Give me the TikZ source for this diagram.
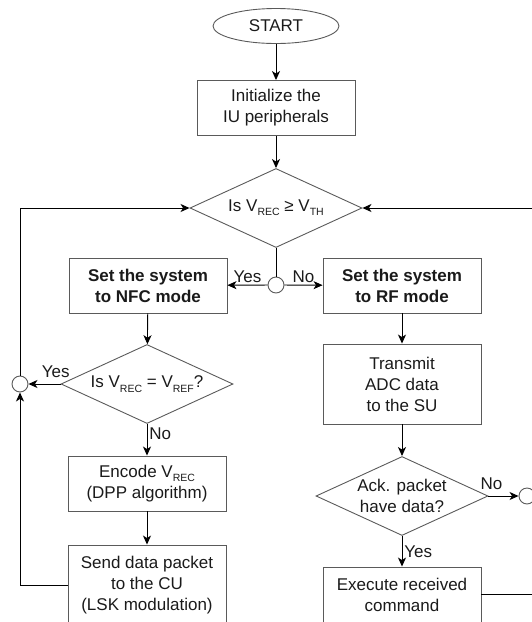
\documentclass[tikz,border=0pt]{standalone}
\usepackage{fontspec}
\setmainfont{Liberation Sans}
\usetikzlibrary{arrows.meta, shapes.geometric}

\definecolor{boxgray}{HTML}{5A5A5A}
\definecolor{inkgray}{HTML}{1A1A1A}
\newcommand{\vsub}[1]{V\raisebox{-0.25em}{\fontsize{10.5}{10.5}\selectfont #1}}

\begin{document}
\begin{tikzpicture}[x=1pt, y=-1pt,
    every node/.style={font=\fontsize{17}{21}\selectfont, text=inkgray},
    procbox/.style={rectangle, draw=boxgray, line width=0.9pt, align=center,
                    minimum width=158pt, minimum height=55pt, inner sep=0pt},
    decbox/.style={diamond, draw=boxgray, line width=0.9pt, align=center, aspect=2.2,
                   minimum width=172pt, minimum height=79pt, inner sep=0pt},
    termbox/.style={ellipse, draw=boxgray, line width=0.9pt,
                    minimum width=126pt, minimum height=35pt, inner sep=0pt},
    joint/.style={circle, draw=boxgray, fill=white, line width=0.9pt,
                  minimum size=16pt, inner sep=0pt}]
\useasboundingbox (0,0) rectangle (532,622);
\clip (0,0) rectangle (532,622);

\node[termbox] (start) at (276,26) {START};
\node[procbox] (init) at (276,108) {Initialize the\\IU peripherals};
\node[decbox] (chkth) at (276,208) {Is \vsub{REC} ≥ \vsub{TH}};
\node[procbox, font=\fontsize{17}{21}\selectfont\bfseries] (nfc) at (148,285.5) {Set the system\\to NFC mode};
\node[procbox, font=\fontsize{17}{21}\selectfont\bfseries] (rf) at (402,285.5) {Set the system\\to RF mode};
\node[decbox] (chkref) at (147,384) {Is \vsub{REC} = \vsub{REF}?};
\node[procbox] (enc) at (147,483.5) {Encode \vsub{REC}\\(DPP algorithm)};
\node[procbox, minimum height=80pt] (send) at (147,585) {Send data packet\\to the CU\\(LSK modulation)};
\node[procbox, minimum height=80pt] (tx) at (402,384) {Transmit\\ADC data\\to the SU};
\node[decbox] (ack) at (402,496) {Ack. packet\\have data?};
\node[procbox] (exec) at (402,594.5) {Execute received\\command};

% junctions
\node[joint] (jmode) at (276,285) {};
\node[joint] (jnfc) at (20,384) {};
\node[joint] (jack) at (527,496) {};

\coordinate (rin) at (545,208);
\coordinate (rout) at (545,594.5);

\begin{scope}[>={Stealth[length=9pt, width=8pt, inset=2.5pt]},
              every edge/.style={draw=black, line width=0.9pt}]
    \path [->] (start) edge (init);
    \path [->] (init) edge (chkth);
    \path (chkth.south) edge (jmode);
    \path [->] (jmode) edge node[above, inner sep=2pt] {Yes} (nfc);
    \path [->] (jmode) edge node[above, inner sep=2pt] {No} (rf);
    \path [->] (nfc) edge (chkref);
    \path [->] (chkref.west) edge node[above, pos=0.15, inner sep=6pt] {Yes} (jnfc);
    \path [->] (chkref.south) edge node[right, pos=0.3, inner sep=2pt] {No} (enc);
    \path [->] (enc) edge (send);
    \draw [->, line width=0.9pt] (send.west) -| (jnfc.south);
    \draw [->, line width=0.9pt] (jnfc.north) |- (chkth.west);
    \path [->] (rf) edge (tx);
    \path [->] (tx) edge (ack);
    \path [->] (ack.east) edge node[above, pos=0.1, inner sep=6pt] {No} (jack);
    \path [->] (ack.south) edge node[right, pos=0.5, inner sep=2pt] {Yes} (exec);
    \path (exec.east) edge (rout);
    \path [->] (rin) edge (chkth.east);
\end{scope}
\end{tikzpicture}
\end{document}
